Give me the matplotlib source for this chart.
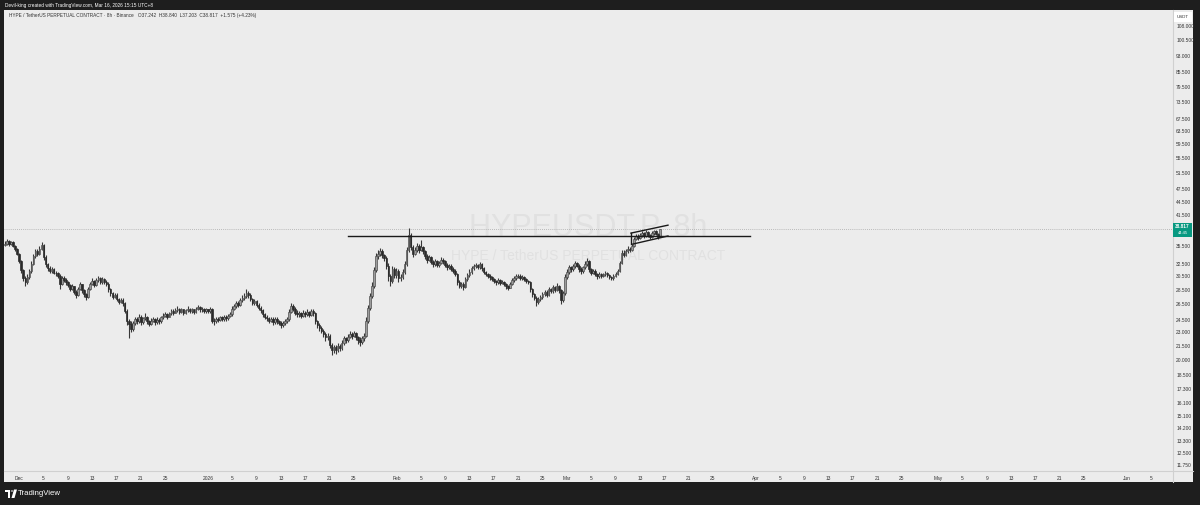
import matplotlib.pyplot as plt
import matplotlib.dates as mdates
from matplotlib.patches import Rectangle, Polygon, Circle
import numpy as np
import pandas as pd

plt.rcParams['font.family'] = ['Liberation Sans', 'DejaVu Sans']

# 8h candles, HYPEUSDT.P (UTC+8), first candle 2025-11-28 16:00
first_open = 35.8
closes = [
    36.0,
    36.4, 35.9, 36.2,  35.6, 35.0, 34.2,
    33.0, 31.5, 30.2,  29.6, 30.4, 31.3,  32.5, 33.8, 34.6,  34.2, 35.1, 35.7,
    33.6, 32.4, 31.8,  31.3, 31.6, 31.1,  31.0, 30.6, 29.4,  30.3, 30.0, 29.6,
    29.2, 28.6, 29.0,  28.2, 27.8, 28.6,  29.3, 28.4, 27.9,  27.5, 28.6, 29.4,
    29.8, 29.2, 29.9,  30.2, 29.6, 30.1,  29.7, 29.4, 28.6,  28.0, 27.5, 27.8,
    27.2, 26.8, 27.1,  26.6, 25.6, 24.3,  24.0, 23.4, 24.1,  24.6, 24.3, 24.9,
    24.2, 24.7, 24.9,  24.3, 24.0, 24.4,  24.6, 24.2, 24.5,  24.3, 24.8, 25.0,
    25.2, 24.9, 25.3,  25.6, 25.4, 25.7,  25.9, 25.5, 25.8,  25.4, 25.7, 25.9,
    25.6, 25.8, 25.5,  25.9, 26.1, 25.8,  25.9, 25.6, 25.8,
    25.6, 25.9, 24.4,  24.3, 24.6, 24.5,  24.8, 24.6, 24.9,  24.7, 25.0, 25.2,
    25.9, 26.2, 26.6,  26.4, 27.0, 27.3,  27.6, 28.1, 27.8,  27.2, 26.7, 26.9,
    26.4, 26.0, 25.7,  25.2, 24.9, 24.7,  24.4, 24.6, 24.2,  24.6, 24.3, 24.1,
    23.8, 24.1, 24.3,  24.6, 25.5, 26.3,  25.9, 25.4, 25.2,  25.3, 25.0, 25.4,
    25.2, 25.5, 25.1,  25.6, 25.3, 24.3,  23.9, 23.5, 23.2,  22.8, 22.4, 22.6,
    21.6, 21.0, 21.3,  21.0, 21.5, 21.2,  21.8, 22.3, 22.1,  22.5, 22.8, 22.6,
    22.9, 22.4, 22.1,  21.9, 22.3, 22.6,  24.4, 26.0, 27.6,  29.0, 31.5, 33.8,
    34.2, 34.7, 33.9,  33.5, 32.2, 30.5,  29.8, 31.6, 30.7,
    31.4, 30.2, 30.4,  31.2, 32.4, 34.8,  37.6, 35.4, 34.2,  34.8, 35.6, 34.9,
    35.3, 34.6, 33.8,  33.2, 33.6, 32.8,  32.4, 32.9, 32.3,  32.7, 33.2, 32.9,
    32.3, 31.9, 32.2,  31.7, 31.4, 30.9,  29.6, 29.1, 29.4,  28.9, 30.1, 30.7,
    31.2, 31.8, 32.1,  32.3, 31.9, 32.4,  31.8, 31.2, 30.9,  30.6, 30.4, 30.1,
    29.8, 29.6, 29.9,  29.5, 29.7, 29.3,  29.0, 28.8, 29.4,  29.9, 30.3, 30.5,
    30.6, 30.2, 30.4,  30.1, 29.8, 29.6,  28.6, 27.9, 27.4,  26.8, 27.2, 27.5,
    27.9, 28.2, 27.8,  28.6, 28.3, 28.9,  28.5, 29.1, 28.4,  27.1, 28.0, 30.4,
    31.2, 31.9, 31.6,  32.1, 32.6, 32.2,  31.6, 31.3, 31.9,  32.5, 32.9, 31.6,
    31.1, 31.4, 30.8,  30.5, 30.9, 30.6,  30.8, 31.0, 30.7,  30.4, 30.2, 30.6,
    30.9, 31.4, 32.6,  34.4, 34.0, 34.7,  35.1, 34.8, 35.6,  36.9, 37.4, 37.1,
    37.6, 37.9, 37.4,  38.1, 37.6, 37.3,  37.9, 38.3, 37.8,
    37.242, 38.817,
]
highs = [
    36.5,
    36.9, 36.6, 36.5,  36.4, 35.8, 35.2,
    34.4, 33.2, 31.7,  30.5, 30.8, 31.6,  32.9, 34.2, 35.0,  35.1, 35.6, 36.3,
    35.9, 33.9, 32.7,  32.1, 31.9, 31.8,  31.4, 31.2, 30.8,  30.6, 30.5, 30.2,
    29.8, 29.4, 29.3,  29.1, 28.4, 28.9,  29.6, 29.4, 28.6,  28.1, 28.9, 29.7,
    30.2, 30.0, 30.2,  30.6, 30.4, 30.4,  30.3, 29.9, 29.6,  28.8, 28.2, 28.1,
    28.0, 27.4, 27.4,  27.3, 26.8, 25.8,  24.6, 24.3, 24.4,  24.9, 24.8, 25.2,
    25.1, 24.9, 25.3,  25.0, 24.5, 24.7,  24.9, 24.7, 24.8,  24.7, 25.0, 25.3,
    25.5, 25.3, 25.5,  25.9, 25.8, 26.0,  26.2, 26.0, 26.0,  25.9, 25.9, 26.2,
    26.0, 26.0, 25.9,  26.1, 26.4, 26.2,  26.1, 26.0, 26.0,
    25.9, 26.1, 26.0,  24.7, 24.9, 24.8,  25.0, 25.0, 25.1,  25.1, 25.2, 25.5,
    26.2, 26.5, 26.9,  26.9, 27.3, 27.7,  28.0, 28.6, 28.3,  28.0, 27.4, 27.2,
    27.1, 26.6, 26.2,  25.9, 25.4, 25.1,  24.9, 24.8, 24.8,  24.9, 24.8, 24.5,
    24.3, 24.3, 24.6,  24.9, 25.8, 26.7,  26.5, 26.1, 25.7,  25.6, 25.5, 25.7,
    25.6, 25.8, 25.6,  25.9, 25.8, 25.5,  24.5, 24.1, 23.7,  23.4, 23.0, 22.9,
    22.8, 21.8, 21.6,  21.6, 21.8, 21.7,  22.1, 22.6, 22.5,  22.8, 23.2, 23.0,
    23.2, 23.0, 22.6,  22.4, 22.6, 22.9,  24.8, 26.4, 28.0,  29.6, 32.0, 34.3,
    34.9, 35.2, 35.0,  34.2, 33.8, 32.6,  30.9, 32.1, 31.9,
    31.8, 31.6, 30.9,  31.6, 32.9, 35.3,  39.0, 37.9, 35.8,  35.4, 36.1, 35.9,
    36.6, 35.6, 34.9,  34.1, 34.0, 33.8,  33.1, 33.3, 33.1,  33.0, 33.6, 33.5,
    33.1, 32.6, 32.5,  32.4, 32.0, 31.6,  31.1, 29.9, 29.7,  29.6, 30.4, 31.0,
    31.6, 32.2, 32.5,  32.7, 32.5, 32.8,  32.6, 32.0, 31.4,  31.1, 30.8, 30.6,
    30.3, 30.0, 30.2,  30.1, 29.9, 29.8,  29.5, 29.2, 29.7,  30.2, 30.6, 30.8,
    30.9, 30.8, 30.7,  30.6, 30.3, 30.0,  29.8, 28.8, 28.1,  27.6, 27.5, 27.8,
    28.2, 28.5, 28.4,  28.9, 28.8, 29.2,  29.1, 29.5, 29.2,  28.6, 28.3, 30.8,
    31.6, 32.3, 32.1,  32.5, 33.0, 32.8,  32.4, 31.9, 32.2,  32.9, 33.4, 33.1,
    31.8, 31.7, 31.6,  31.0, 31.2, 31.1,  31.1, 31.3, 31.2,  30.9, 30.6, 30.9,
    31.2, 31.7, 32.9,  34.8, 34.9, 35.0,  35.5, 35.4, 35.9,  37.3, 37.8, 37.7,
    38.0, 38.3, 38.1,  38.5, 38.3, 37.8,  38.3, 38.6, 38.5,
    37.9, 38.84,
]
lows = [
    35.5,
    35.8, 35.6, 35.7,  35.3, 34.6, 33.9,
    32.6, 31.0, 29.8,  29.1, 29.4, 30.1,  31.1, 32.3, 33.5,  33.8, 34.0, 34.9,
    33.2, 32.0, 31.4,  31.0, 31.1, 30.8,  30.6, 30.3, 28.6,  29.2, 29.7, 29.2,
    28.9, 28.3, 28.4,  27.9, 27.4, 27.6,  28.4, 28.1, 27.5,  27.1, 27.3, 28.4,
    29.2, 28.9, 29.0,  29.7, 29.3, 29.4,  29.4, 29.1, 28.2,  27.6, 27.2, 27.3,
    26.9, 26.5, 26.6,  26.3, 25.3, 23.9,  22.3, 23.0, 23.2,  23.9, 24.0, 24.1,
    23.9, 24.0, 24.5,  24.0, 23.7, 23.8,  24.2, 23.9, 24.0,  24.0, 24.1, 24.6,
    24.8, 24.6, 24.8,  25.1, 25.1, 25.3,  25.5, 25.2, 25.3,  25.1, 25.2, 25.5,
    25.3, 25.4, 25.2,  25.3, 25.7, 25.5,  25.5, 25.3, 25.4,
    25.3, 25.4, 24.1,  23.9, 24.1, 24.2,  24.3, 24.3, 24.4,  24.4, 24.5, 24.8,
    25.0, 25.7, 26.0,  26.1, 26.2, 26.8,  27.1, 27.4, 27.4,  26.9, 26.4, 26.4,
    26.1, 25.7, 25.4,  24.9, 24.6, 24.4,  24.1, 24.2, 23.9,  24.0, 24.0, 23.8,
    23.5, 23.6, 23.9,  24.1, 24.4, 25.3,  25.6, 25.1, 24.9,  24.9, 24.7, 24.8,
    24.9, 25.0, 24.8,  25.0, 25.0, 24.0,  23.5, 23.1, 22.9,  22.4, 22.0, 22.1,
    21.2, 20.5, 20.7,  20.6, 20.8, 20.9,  21.0, 21.6, 21.8,  21.9, 22.3, 22.2,
    22.4, 22.1, 21.7,  21.5, 21.7, 22.0,  22.4, 24.1, 25.7,  27.3, 28.7, 31.2,
    33.3, 33.8, 33.4,  32.9, 31.6, 29.8,  29.1, 29.5, 30.2,
    30.3, 29.6, 29.8,  30.1, 30.9, 32.1,  34.5, 34.8, 33.7,  33.9, 34.5, 34.4,
    34.6, 34.1, 33.3,  32.7, 32.9, 32.4,  31.9, 32.1, 31.9,  32.0, 32.5, 32.5,
    31.9, 31.5, 31.6,  31.3, 31.0, 30.5,  29.2, 28.7, 28.8,  28.5, 28.7, 29.8,
    30.4, 30.9, 31.5,  31.8, 31.6, 31.7,  31.4, 30.9, 30.5,  30.2, 30.0, 29.8,
    29.5, 29.2, 29.4,  29.2, 29.3, 29.0,  28.6, 28.4, 28.7,  29.2, 29.7, 30.0,
    30.2, 29.9, 30.0,  29.8, 29.5, 29.3,  28.2, 27.5, 27.0,  26.2, 26.5, 26.9,
    27.2, 27.6, 27.5,  27.6, 28.0, 28.1,  28.2, 28.3, 28.0,  26.5, 26.8, 27.8,
    30.1, 30.9, 31.2,  31.4, 31.8, 31.9,  31.2, 30.9, 31.1,  31.7, 32.2, 31.2,
    30.7, 30.8, 30.5,  30.1, 30.3, 30.3,  30.4, 30.6, 30.4,  30.1, 29.9, 30.0,
    30.4, 30.7, 31.2,  32.4, 33.6, 33.8,  34.4, 34.5, 34.6,  35.4, 36.6, 36.7,
    36.9, 37.3, 37.1,  37.2, 37.3, 36.9,  37.1, 37.6, 37.5,
    36.9, 37.203,
]
opens = [first_open] + closes[:-1]
times = pd.date_range('2025-11-28 16:00', periods=len(closes), freq='8h')

last_price = 38.817
countdown = '44:45'
price_ticks = [108, 100.5, 93, 85.5, 79.5, 73.5, 67.5, 63.5, 59.5, 55.5, 51.5,
               47.5, 44.5, 41.5, 35.5, 32.5, 30.5, 28.5, 26.5, 24.5, 23, 21.5,
               20, 18.5, 17.3, 16.1, 15.1, 14.2, 13.3, 12.5, 11.75]
month_starts = ['2025-12-01', '2026-01-01', '2026-02-01', '2026-03-01',
                '2026-04-01', '2026-05-01', '2026-06-01']
month_labels = ['Dec', '2026', 'Feb', 'Mar', 'Apr', 'May', 'Jun']
day_ticks = [5, 9, 13, 17, 21, 25]

# user drawings: horizontal level and rising flag channel
level_price = 37.4
level_span = ['2026-01-24 02:00', '2026-03-31 03:00']
chan_upper = (['2026-03-11 13:00', '2026-03-17 15:00'], [37.95, 39.5])
chan_lower = (['2026-03-11 20:00', '2026-03-17 15:00'], [35.9, 37.4])

x_lim = ['2025-11-28 12:00', '2026-06-08 11:00']
y_lim = (11.47, 117.1)

W, H = 1200, 505
fig = plt.figure(figsize=(W / 100, H / 100), dpi=100, facecolor='#1e1e1e')
fig.patches.append(Rectangle((4 / W, 1 - 482 / H), 1189 / W, 472 / H,
                             transform=fig.transFigure, fc='#ececec', ec='none', zorder=-5))
ax = fig.add_axes([4 / W, 1 - 470 / H, 1168 / W, 460 / H])
ax.set_facecolor('#ececec')

xs = mdates.date2num(times.to_pydatetime())
o = np.array(opens); c = np.array(closes)
up = c >= o
ax.vlines(xs, lows, highs, color='#383838', lw=0.8, zorder=2)
bw = 0.26
ax.bar(xs[up], (c - o)[up], bottom=o[up], width=bw, color='#9c9c9c',
       edgecolor='#505050', lw=0.5, zorder=3)
ax.bar(xs[~up], (o - c)[~up], bottom=c[~up], width=bw, color='#2b2b2b',
       edgecolor='#2b2b2b', lw=0.5, zorder=3)

ax.set_yscale('log')
ax.set_ylim(*y_lim)
ax.set_xlim(mdates.datestr2num(x_lim[0]), mdates.datestr2num(x_lim[1]))

# drawings
ax.plot(mdates.datestr2num(level_span), [level_price] * 2, color='#1a1a1a', lw=1.0, zorder=4)
for dts, ps in (chan_upper, chan_lower):
    ax.plot(mdates.datestr2num(dts), ps, color='#1a1a1a', lw=1.0, zorder=4)
ax.plot(mdates.datestr2num([chan_upper[0][0]] * 2), [chan_upper[1][0], chan_lower[1][0]],
        color='#1a1a1a', lw=1.0, zorder=4)
ax.axhline(last_price, color='#a8a8a8', lw=0.6, ls=(0, (1, 1.5)), zorder=1)

# axes styling
for s in ['top', 'left', 'right', 'bottom']:
    ax.spines[s].set_visible(False)
ax.yaxis.tick_right()
ax.yaxis.set_minor_locator(plt.NullLocator())
ax.set_yticks(price_ticks)
ax.set_yticklabels(['{:.3f}'.format(p) for p in price_ticks])
ax.tick_params(axis='y', length=0, pad=3, labelsize=3.5, labelcolor='#333333')

xticks, xlabels = [], []
for ms, ml in zip(month_starts, month_labels):
    d0 = pd.Timestamp(ms)
    xticks.append(mdates.date2num(d0.to_pydatetime()))
    xlabels.append(ml)
    for d in day_ticks:
        xticks.append(mdates.date2num(d0.replace(day=d).to_pydatetime()))
        xlabels.append(str(d))
lo, hi = ax.get_xlim()
keep = [(t, l) for t, l in zip(xticks, xlabels) if lo < t < hi - 2]
ax.set_xticks([t for t, _ in keep])
ax.set_xticklabels([l for _, l in keep])
ax.tick_params(axis='x', length=0, pad=4, labelsize=3.5, labelcolor='#333333')

# separators of price / time scales
fig.add_artist(plt.Line2D([1172.5 / W] * 2, [1 - 482 / H, 1 - 10 / H], color='#d0d0d0', lw=0.8))
fig.add_artist(plt.Line2D([4 / W, 1193 / W], [1 - 470.5 / H] * 2, color='#d0d0d0', lw=0.8))

# watermark
ax.text(0.5, 0.526, 'HYPEUSDT.P, 8h', transform=ax.transAxes, ha='center', va='center',
        fontsize=22, color='#e1e1e1', zorder=0.5)
ax.text(0.5, 0.465, 'HYPE / TetherUS PERPETUAL CONTRACT', transform=ax.transAxes,
        ha='center', va='center', fontsize=10, color='#e1e1e1', zorder=0.5)

# legend line
ax.text(0.0043, 0.987, 'HYPE / TetherUS PERPETUAL CONTRACT · 8h · Binance   '
        'O37.242  H38.840  L37.203  C38.817  +1.575 (+4.23%)',
        transform=ax.transAxes, ha='left', va='center', fontsize=3.4, color='#333333')

# price scale boxes
fig.patches.append(Rectangle((1174 / W, 1 - 22 / H), 18 / W, 10 / H, transform=fig.transFigure,
                             fc='#ffffff', ec='none', zorder=5))
fig.text(1183 / W, 1 - 17 / H, 'USDT', ha='center', va='center', fontsize=3.2, color='#333333', zorder=6)
fig.patches.append(Rectangle((1173 / W, 1 - 237 / H), 19 / W, 14 / H, transform=fig.transFigure,
                             fc='#089981', ec='none', zorder=5))
fig.text(1182.5 / W, 1 - 227 / H, '{:.3f}'.format(last_price), ha='center', va='center',
         fontsize=3.4, color='white', weight='bold', zorder=6)
fig.text(1182.5 / W, 1 - 233.5 / H, countdown, ha='center', va='center',
         fontsize=3.0, color='white', zorder=6)

# header and footer
fig.text(5 / W, 1 - 5 / H, 'Devil-king created with TradingView.com, Mar 16, 2026 15:15 UTC+8',
         ha='left', va='center', fontsize=3.4, color='white')
fig.patches.append(Rectangle((5 / W, 1 - 492 / H), 5 / W, 2.5 / H, transform=fig.transFigure,
                             fc='white', ec='none'))
fig.patches.append(Rectangle((7.5 / W, 1 - 498 / H), 2.5 / W, 8.5 / H, transform=fig.transFigure,
                             fc='white', ec='none'))
fig.patches.append(Circle((12 / W, 1 - 491 / H), 1.3 / W, transform=fig.transFigure,
                          fc='white', ec='none'))
fig.patches.append(Polygon([(14 / W, 1 - 489.5 / H), (17 / W, 1 - 489.5 / H),
                            (14.5 / W, 1 - 498 / H), (11.5 / W, 1 - 498 / H)],
                           transform=fig.transFigure, fc='white', ec='none'))
fig.text(18 / W, 1 - 493.5 / H, 'TradingView', ha='left', va='center', fontsize=5.6,
         color='white')

fig.savefig('out.png', dpi=100, facecolor=fig.get_facecolor())
